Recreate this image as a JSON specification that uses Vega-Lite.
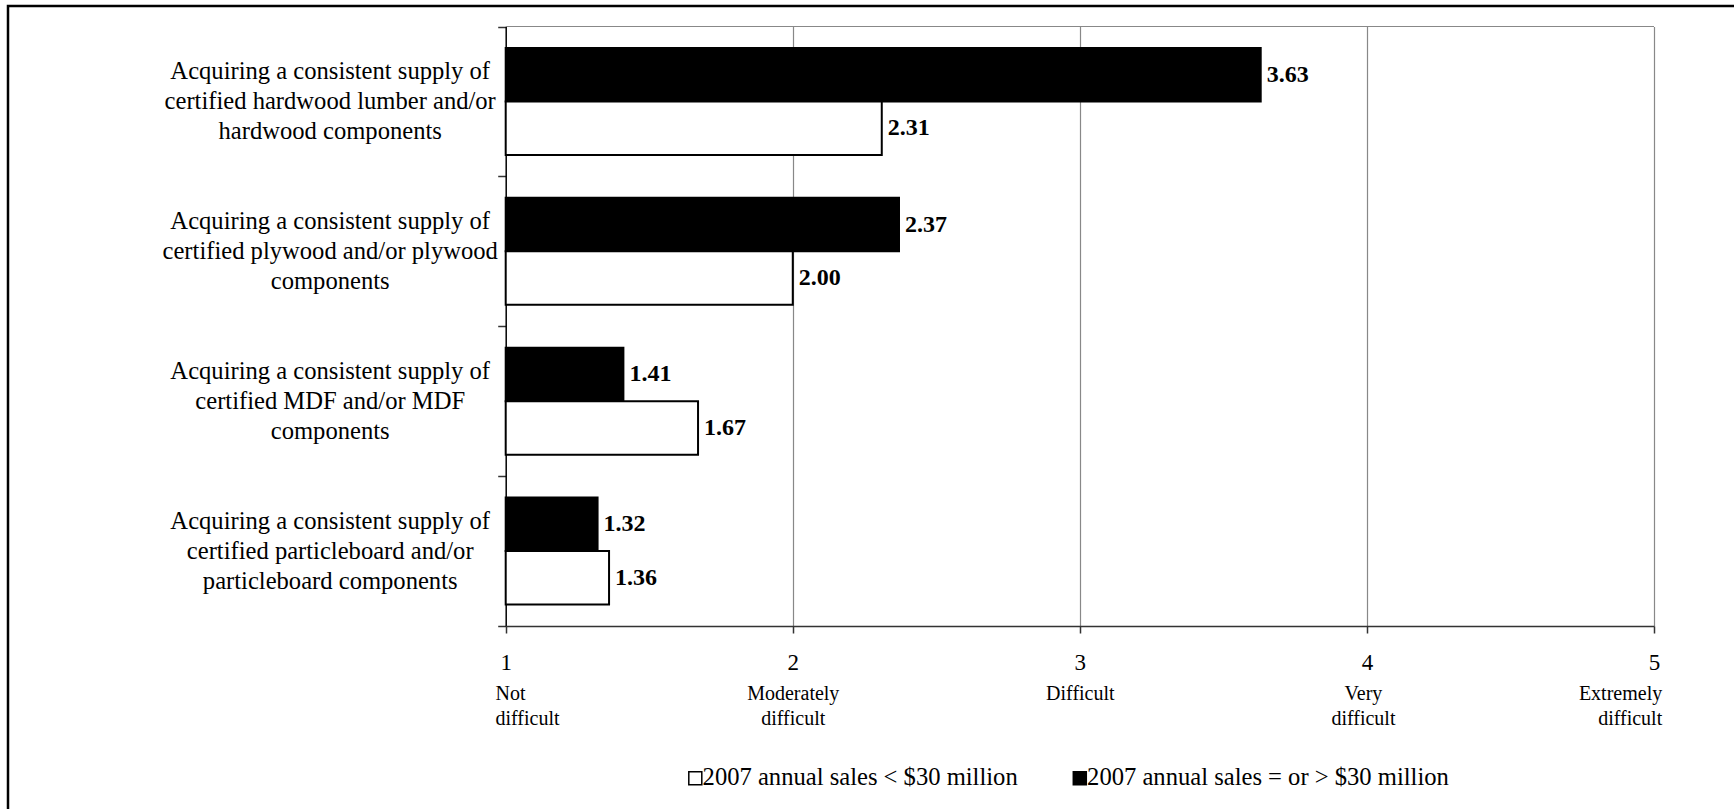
{
  "$schema": "https://vega.github.io/schema/vega-lite/v6.json",
  "width": 1726,
  "height": 803,
  "autosize": {"type": "none"},
  "padding": {"left": 8, "top": 6, "right": 0, "bottom": 0},
  "background": "white",
  "config": {
    "font": "Liberation Serif",
    "view": {"stroke": "black", "strokeWidth": 2.5, "strokeDash": [1726, 2529, 813]},
    "axis": {"labelFont": "Liberation Serif", "labelColor": "black", "domainColor": "#333", "tickColor": "#333", "domainWidth": 1.5, "tickWidth": 1.5},
    "axisY": {
      "offset": -497.7, "tickBand": "extent", "tickSize": 8, "zindex": 2, "grid": false,
      "domainColor": "black", "labelAlign": "center", "labelBaseline": "middle", "labelOffset": -30,
      "labelPadding": 168, "labelFontSize": 24.6, "labelLineHeight": 30, "labelLimit": 500
    }
  },
  "data": {
    "values": [
      {"task": "Acquiring a consistent supply of\ncertified hardwood lumber and/or\nhardwood components", "group": "2007 annual sales = or > $30 million", "value": 3.63},
      {"task": "Acquiring a consistent supply of\ncertified hardwood lumber and/or\nhardwood components", "group": "2007 annual sales < $30 million", "value": 2.31},
      {"task": "Acquiring a consistent supply of\ncertified plywood and/or plywood\ncomponents", "group": "2007 annual sales = or > $30 million", "value": 2.37},
      {"task": "Acquiring a consistent supply of\ncertified plywood and/or plywood\ncomponents", "group": "2007 annual sales < $30 million", "value": 2.0},
      {"task": "Acquiring a consistent supply of\ncertified MDF and/or MDF\ncomponents", "group": "2007 annual sales = or > $30 million", "value": 1.41},
      {"task": "Acquiring a consistent supply of\ncertified MDF and/or MDF\ncomponents", "group": "2007 annual sales < $30 million", "value": 1.67},
      {"task": "Acquiring a consistent supply of\ncertified particleboard and/or\nparticleboard components", "group": "2007 annual sales = or > $30 million", "value": 1.32},
      {"task": "Acquiring a consistent supply of\ncertified particleboard and/or\nparticleboard components", "group": "2007 annual sales < $30 million", "value": 1.36}
    ]
  },
  "layer": [
    {
      "mark": {"type": "bar", "stroke": "black", "strokeWidth": 2},
      "encoding": {
        "y": {
          "field": "task", "type": "nominal", "title": null,
          "scale": {
            "domain": [
              "Acquiring a consistent supply of\ncertified hardwood lumber and/or\nhardwood components",
              "Acquiring a consistent supply of\ncertified plywood and/or plywood\ncomponents",
              "Acquiring a consistent supply of\ncertified MDF and/or MDF\ncomponents",
              "Acquiring a consistent supply of\ncertified particleboard and/or\nparticleboard components"
            ],
            "range": [20.5, 620], "paddingInner": 0, "paddingOuter": 0
          },
          "axis": {"title": null, "labelExpr": "split(datum.label, '\\n')"}
        },
        "yOffset": {
          "field": "group", "type": "nominal",
          "scale": {"domain": ["2007 annual sales = or > $30 million", "2007 annual sales < $30 million"], "paddingInner": 0, "paddingOuter": 0.4}
        },
        "x": {
          "field": "value", "type": "quantitative",
          "scale": {"domain": [1, 5], "range": [497.7, 1646], "zero": false, "nice": false},
          "axis": {
            "title": null, "orient": "bottom", "offset": -183, "values": [1, 2, 3, 4, 5], "format": "d",
            "grid": false, "tickSize": 7, "zindex": 2,
            "labelFontSize": 23, "labelBaseline": "alphabetic", "labelPadding": 36.3,
            "labelFlush": false, "labelOverlap": false
          }
        },
        "x2": {"datum": 1},
        "fill": {
          "field": "group", "type": "nominal",
          "scale": {"domain": ["2007 annual sales < $30 million", "2007 annual sales = or > $30 million"], "range": ["white", "black"]},
          "legend": {
            "title": null, "orient": "none", "legendX": 675, "legendY": 760, "direction": "horizontal",
            "symbolType": "square", "symbolSize": 169, "symbolStrokeColor": "black", "symbolStrokeWidth": 1.5,
            "labelFontSize": 24.6, "labelFont": "Liberation Serif", "labelColor": "black", "labelOffset": -5,
            "columnPadding": 49.5, "padding": 0, "labelLimit": 500
          }
        }
      }
    },
    {
      "mark": {"type": "text", "align": "left", "baseline": "middle", "dx": 6, "fontSize": 24, "fontWeight": "bold", "font": "Liberation Serif", "color": "black"},
      "encoding": {
        "y": {"field": "task", "type": "nominal", "title": null, "axis": {"title": null, "labelExpr": "split(datum.label, '\\n')"}},
        "yOffset": {"field": "group", "type": "nominal"},
        "x": {
          "field": "value", "type": "quantitative",
          "axis": {
            "title": null, "orient": "bottom", "offset": -183, "values": [1, 2, 3, 4, 5],
            "domain": false, "ticks": false, "tickSize": 0, "grid": false,
            "labelFontSize": 20, "labelLineHeight": 25.5, "labelBaseline": "alphabetic", "labelPadding": 73,
            "labelExpr": "datum.value == 1 ? ['Not', 'difficult'] : datum.value == 2 ? ['Moderately', 'difficult'] : datum.value == 3 ? 'Difficult' : datum.value == 4 ? ['Very', 'difficult'] : ['Extremely', 'difficult']",
            "labelAlign": {"condition": [{"test": "datum.value == 1", "value": "left"}, {"test": "datum.value == 5", "value": "right"}], "value": "center"},
            "labelOffset": {"condition": [{"test": "datum.value == 1", "value": -10.7}, {"test": "datum.value == 4", "value": -4}, {"test": "datum.value == 5", "value": 7.7}], "value": 0},
            "labelFlush": false, "labelOverlap": false
          }
        },
        "text": {"field": "value", "type": "quantitative", "format": ".2f"}
      }
    },
    {
      "data": {"values": [{"task": "Acquiring a consistent supply of\ncertified hardwood lumber and/or\nhardwood components"}]},
      "mark": {"type": "rule", "color": "#888", "strokeWidth": 1.2},
      "encoding": {
        "y": {"field": "task", "type": "nominal", "title": null, "bandPosition": 0, "axis": {"title": null, "labelExpr": "split(datum.label, '\\n')"}},
        "x": {
          "datum": 1, "type": "quantitative",
          "axis": {
            "title": null, "orient": "top", "values": [2, 3, 4, 5], "domain": false, "ticks": false, "labels": false,
            "grid": true, "gridColor": "#888", "gridWidth": 1.2, "zindex": 0
          }
        },
        "x2": {"datum": 5}
      }
    }
  ],
  "resolve": {"axis": {"x": "independent"}}
}
